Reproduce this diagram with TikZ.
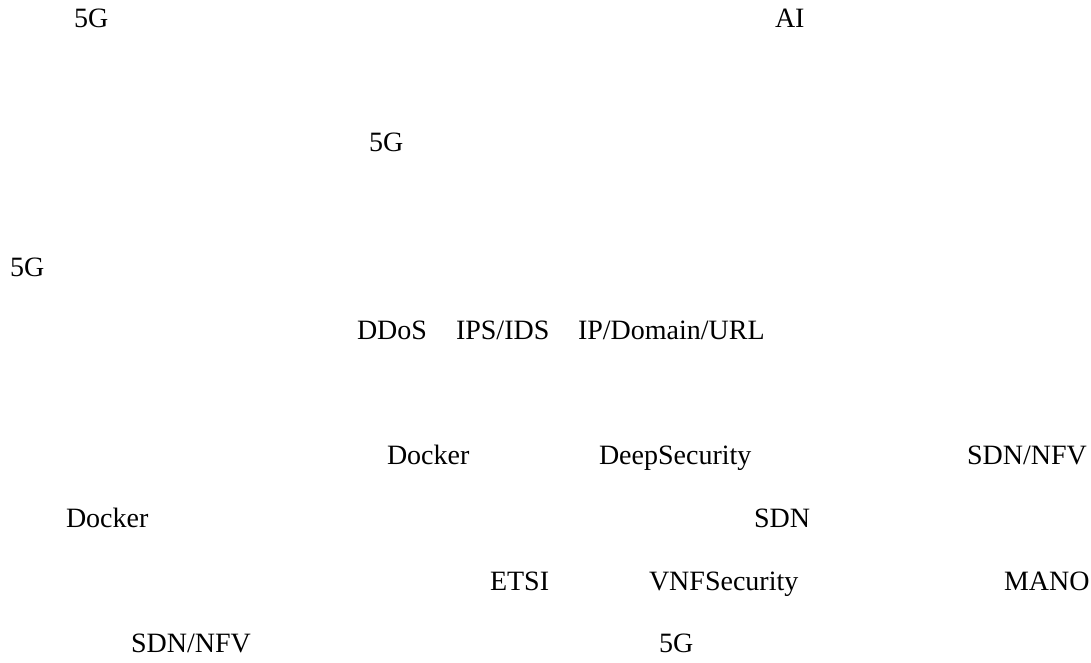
\documentclass[tikz,border=0pt]{standalone}
\usepackage{fontspec}
\setmainfont{Liberation Serif}
\begin{document}
\begin{tikzpicture}[x=1pt,y=1pt,
  lbl/.style={anchor=base west, inner sep=0pt, outer sep=0pt, font=\fontsize{28}{32}\selectfont, text=black}]
\useasboundingbox (0,0) rectangle (1091,663);
\node[lbl] (t1) at (74,635.5) {5G};
\node[lbl] (t2) at (775,635.5) {AI};
\node[lbl] (t3) at (369,511) {5G};
\node[lbl] (t4) at (10,386) {5G};
\node[lbl] (t5a) at (357,323) {DDoS};
\node[lbl] (t5b) at (456,323) {IPS/IDS};
\node[lbl] (t5c) at (578,323) {IP/Domain/URL};
\node[lbl] (t6a) at (387,198) {Docker};
\node[lbl] (t6b) at (599,198) {DeepSecurity};
\node[lbl] (t6c) at (967,198) {SDN/NFV};
\node[lbl] (t7a) at (66,135) {Docker};
\node[lbl] (t7b) at (754,135) {SDN};
\node[lbl] (t8a) at (490,72) {ETSI};
\node[lbl] (t8b) at (649,72) {VNFSecurity};
\node[lbl] (t8c) at (1004,72) {MANO};
\node[lbl] (t9a) at (131,10) {SDN/NFV};
\node[lbl] (t9b) at (659,10) {5G};
\end{tikzpicture}
\end{document}
